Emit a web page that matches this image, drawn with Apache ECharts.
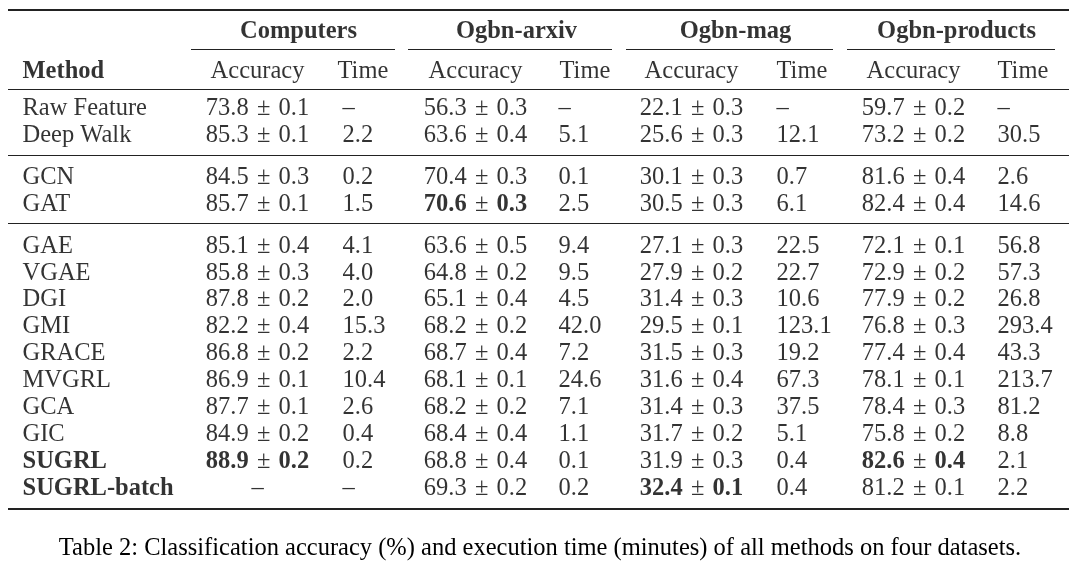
<!DOCTYPE html>
<html>
<head>
<meta charset="utf-8">
<script src="https://cdn.jsdelivr.net/npm/echarts@6/dist/echarts.min.js"></script>
<style>
  html, body { margin: 0; background: #fff; }
  #main { width: 1080px; height: 569px; }
</style>
</head>
<body>
<div id="main"></div>
<script>
// table content
var methods = ['Raw Feature', 'Deep Walk', 'GCN', 'GAT', 'GAE', 'VGAE', 'DGI', 'GMI',
  'GRACE', 'MVGRL', 'GCA', 'GIC', 'SUGRL', 'SUGRL-batch'];
var methodGroup = [0, 0, 1, 1, 2, 2, 2, 2, 2, 2, 2, 2, 2, 2];
var boldMethods = ['SUGRL', 'SUGRL-batch'];
var datasets = ['Computers', 'Ogbn-arxiv', 'Ogbn-mag', 'Ogbn-products'];
var subHeaders = ['Accuracy', 'Time'];
var caption = 'Table 2: Classification accuracy (%) and execution time (minutes) of all methods on four datasets.';

// accuracy mean / std and time (minutes), null = not available
var computersAcc  = [73.8, 85.3, 84.5, 85.7, 85.1, 85.8, 87.8, 82.2, 86.8, 86.9, 87.7, 84.9, 88.9, null];
var computersStd  = [0.1, 0.1, 0.3, 0.1, 0.4, 0.3, 0.2, 0.4, 0.2, 0.1, 0.1, 0.2, 0.2, null];
var computersTime = [null, 2.2, 0.2, 1.5, 4.1, 4.0, 2.0, 15.3, 2.2, 10.4, 2.6, 0.4, 0.2, null];

var arxivAcc  = [56.3, 63.6, 70.4, 70.6, 63.6, 64.8, 65.1, 68.2, 68.7, 68.1, 68.2, 68.4, 68.8, 69.3];
var arxivStd  = [0.3, 0.4, 0.3, 0.3, 0.5, 0.2, 0.4, 0.2, 0.4, 0.1, 0.2, 0.4, 0.4, 0.2];
var arxivTime = [null, 5.1, 0.1, 2.5, 9.4, 9.5, 4.5, 42.0, 7.2, 24.6, 7.1, 1.1, 0.1, 0.2];

var magAcc  = [22.1, 25.6, 30.1, 30.5, 27.1, 27.9, 31.4, 29.5, 31.5, 31.6, 31.4, 31.7, 31.9, 32.4];
var magStd  = [0.3, 0.3, 0.3, 0.3, 0.3, 0.2, 0.3, 0.1, 0.3, 0.4, 0.3, 0.2, 0.3, 0.1];
var magTime = [null, 12.1, 0.7, 6.1, 22.5, 22.7, 10.6, 123.1, 19.2, 67.3, 37.5, 5.1, 0.4, 0.4];

var productsAcc  = [59.7, 73.2, 81.6, 82.4, 72.1, 72.9, 77.9, 76.8, 77.4, 78.1, 78.4, 75.8, 82.6, 81.2];
var productsStd  = [0.2, 0.2, 0.4, 0.4, 0.1, 0.2, 0.2, 0.3, 0.4, 0.1, 0.3, 0.2, 0.4, 0.1];
var productsTime = [null, 30.5, 2.6, 14.6, 56.8, 57.3, 26.8, 293.4, 43.3, 213.7, 81.2, 8.8, 2.1, 2.2];

var accList  = [computersAcc, arxivAcc, magAcc, productsAcc];
var stdList  = [computersStd, arxivStd, magStd, productsStd];
var timeList = [computersTime, arxivTime, magTime, productsTime];

// layout (x in axis units = px, y in row units)
var methodX = 23;
var accX = [258, 476, 692, 914];        // centre of accuracy column
var timeX = [343, 559, 777, 998];       // left edge of time column
var timeHeadX = [338, 560, 777, 998];
var dsX = [299, 517, 736, 957];         // dataset title centre
var dsRule = [[191, 395], [408, 612], [626, 833], [847, 1055]];
var ruleX = [8, 1069];
var rowPitch = 26.9, firstRowPx = 107, groupGap = 0.56;
var yDataset = -2.86, yCmid = -2.16, ySub = -1.375;
var yTop = -3.62, yHead = -0.66, yBottom = 14.94;
var groupRules = [1.78, 4.34];

var FONT = '"Liberation Serif", "DejaVu Serif", serif';
var INK = '#000';
var SIZE = 24.5;

function rowY(i) { return i + groupGap * methodGroup[i]; }
function fmt(v) { return v.toFixed(1); }

var cells = [];
function addText(x, y, text, align, bold) {
  cells.push({
    value: [x, y],
    text: text,
    label: { align: align, fontWeight: bold ? 'bold' : 'normal' }
  });
}

// header rows
datasets.forEach(function (d, k) {
  addText(dsX[k], yDataset, d, 'center', true);
  addText(accX[k], ySub, subHeaders[0], 'center', false);
  addText(timeHeadX[k], ySub, subHeaders[1], 'left', false);
});
addText(methodX, ySub, 'Method', 'left', true);

// body rows
methods.forEach(function (m, i) {
  var y = rowY(i);
  addText(methodX, y, m, 'left', boldMethods.indexOf(m) >= 0);
  for (var k = 0; k < datasets.length; k++) {
    var acc = accList[k][i], std = stdList[k][i], t = timeList[k][i];
    var best = Math.max.apply(null, accList[k].filter(function (v) { return v != null; }));
    var accText;
    if (acc == null) {
      accText = '–';
    } else if (acc === best) {
      accText = '{b|' + fmt(acc) + '}\u2004±\u2004{b|' + fmt(std) + '}';
    } else {
      accText = fmt(acc) + '\u2004±\u2004' + fmt(std);
    }
    addText(accX[k], y, accText, 'center', false);
    addText(timeX[k], y, t == null ? '–' : fmt(t), 'left', false);
  }
});

// horizontal rules
function rule(y, x1, x2, w) {
  return [
    { coord: [x1, y], lineStyle: { width: w } },
    { coord: [x2, y] }
  ];
}
var rules = [
  rule(yTop, ruleX[0], ruleX[1], 2),
  rule(yHead, ruleX[0], ruleX[1], 1.2),
  rule(groupRules[0], ruleX[0], ruleX[1], 1.2),
  rule(groupRules[1], ruleX[0], ruleX[1], 1.2),
  rule(yBottom, ruleX[0], ruleX[1], 2)
];
dsRule.forEach(function (r) { rules.push(rule(yCmid, r[0], r[1], 1)); });

var chart = echarts.init(document.getElementById('main'));
chart.setOption({
  animation: false,
  backgroundColor: '#fff',
  title: {
    text: caption,
    left: 'center',
    top: 531,
    textStyle: { fontFamily: FONT, fontWeight: 'normal', fontSize: SIZE, color: INK }
  },
  grid: { left: 0, right: 0, top: 0, bottom: 0 },
  xAxis: { type: 'value', min: 0, max: 1080, show: false },
  yAxis: {
    type: 'value',
    inverse: true,
    min: -firstRowPx / rowPitch,
    max: (569 - firstRowPx) / rowPitch,
    show: false
  },
  series: [{
    type: 'scatter',
    silent: true,
    symbolSize: 1,
    itemStyle: { color: 'transparent' },
    data: cells,
    label: {
      show: true,
      position: [0, 0],
      offset: [0, 2],
      verticalAlign: 'middle',
      fontFamily: FONT,
      fontSize: SIZE,
      color: INK,
      formatter: function (p) { return p.data.text; },
      rich: {
        b: { fontFamily: FONT, fontSize: SIZE, fontWeight: 'bold', color: INK }
      }
    },
    markLine: {
      silent: true,
      symbol: ['none', 'none'],
      label: { show: false },
      lineStyle: { color: '#222', type: 'solid' },
      data: rules
    }
  }]
});
</script>
</body>
</html>
